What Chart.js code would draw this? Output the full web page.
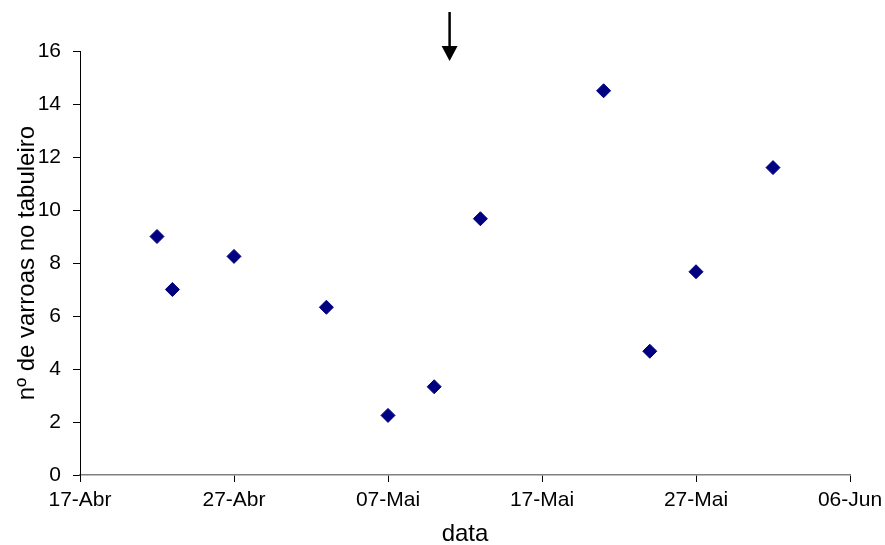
<!DOCTYPE html>
<html>
<head>
<meta charset="utf-8">
<script src="https://cdn.jsdelivr.net/npm/chart.js@4"></script>
<style>
  html, body { margin: 0; padding: 0; background: #fff; }
  canvas { display: block; }
</style>
</head>
<body>
<canvas id="grafico" width="885" height="545"></canvas>
<script>
// dados (dias contados a partir de 17-Abr)
const dias = [5, 6, 10, 16, 20, 23, 26, 34, 37, 40, 45];
const varroas = [9, 7, 8.25, 6.33, 2.25, 3.33, 9.67, 14.5, 4.67, 7.67, 11.6];
const rotulosX = ['17-Abr', '27-Abr', '07-Mai', '17-Mai', '27-Mai', '06-Jun'];
const diaSeta = 24; // 11-Mai, seta indicadora

const fonte = 'Liberation Sans, Arial, sans-serif';

// seta desenhada acima do gráfico
const setaPlugin = {
  id: 'seta',
  afterDraw(chart) {
    const ctx = chart.ctx;
    const x = chart.scales.x.getPixelForValue(diaSeta);
    const topo = chart.chartArea.top;
    ctx.save();
    ctx.strokeStyle = '#000';
    ctx.fillStyle = '#000';
    ctx.lineWidth = 2.5;
    ctx.beginPath();
    ctx.moveTo(x, topo - 39);
    ctx.lineTo(x, topo - 4);
    ctx.stroke();
    ctx.beginPath();
    ctx.moveTo(x - 8, topo - 5);
    ctx.lineTo(x + 8, topo - 5);
    ctx.lineTo(x, topo + 10);
    ctx.closePath();
    ctx.fill();
    ctx.restore();
  }
};

const pontos = dias.map((d, i) => ({ x: d, y: varroas[i] }));

new Chart(document.getElementById('grafico'), {
  type: 'scatter',
  data: {
    datasets: [{
      data: pontos,
      pointStyle: 'rectRot',
      pointRadius: 7,
      backgroundColor: '#000080',
      borderColor: '#000080',
      borderWidth: 1
    }]
  },
  options: {
    responsive: false,
    animation: false,
    layout: { padding: { top: 51, right: 35, left: 0, bottom: 0 } },
    plugins: { legend: { display: false }, tooltip: { enabled: false } },
    scales: {
      x: {
        type: 'linear',
        min: 0,
        max: 50,
        afterFit(scale) {
          scale.height = 70;
          scale.paddingLeft = 0;
          scale.paddingRight = 0;
        },
        border: { color: '#808080', width: 1.5 },
        grid: { drawOnChartArea: false, drawTicks: true, tickLength: 7, tickColor: '#000' },
        ticks: {
          stepSize: 10,
          padding: 6,
          color: '#000',
          font: { family: fonte, size: 21 },
          maxRotation: 0,
          callback: (v) => rotulosX[v / 10]
        },
        title: {
          display: true,
          text: 'data',
          color: '#000',
          font: { family: fonte, size: 24, lineHeight: 0.9 },
          padding: { top: 0, bottom: 0 }
        }
      },
      y: {
        min: 0,
        max: 16,
        afterFit(scale) {
          scale.width = 80;
          scale.paddingTop = 0;
          scale.paddingBottom = 0;
        },
        border: { color: '#000', width: 1 },
        grid: { drawOnChartArea: false, drawTicks: true, tickLength: 7, tickColor: '#000' },
        ticks: {
          stepSize: 2,
          padding: 12,
          color: '#000',
          font: { family: fonte, size: 21 }
        },
        title: {
          display: true,
          text: 'nº de varroas no tabuleiro',
          color: '#000',
          font: { family: fonte, size: 24, lineHeight: 1 },
          padding: { top: 15, bottom: 0 }
        }
      }
    }
  },
  plugins: [setaPlugin]
});
</script>
</body>
</html>
